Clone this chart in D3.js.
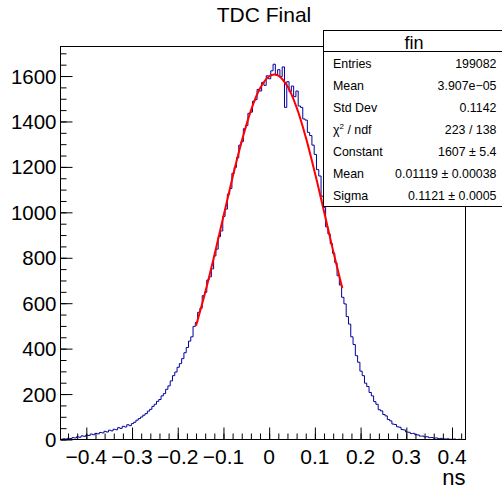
<!DOCTYPE html>
<html><head><meta charset="utf-8">
<script src="https://cdn.jsdelivr.net/npm/d3@7"></script>
<style>
body{margin:0;background:#fff}
svg{display:block}
text{font-family:"Liberation Sans",Arial,Helvetica,sans-serif;fill:#000}
</style>
</head><body>
<svg id="c" width="502" height="490"></svg>
<script>
// ---- data ----
const title = "TDC Final";
const xTitle = "ns";
const histName = "fin";
const binLow = -0.4565;
const binWidth = 0.005;
const counts = [
  1, 3, 2, 5, 4, 8, 7, 12, 10, 16,
  14, 19, 18, 24, 21, 27, 25, 31, 29, 36,
  33, 41, 38, 45, 43, 52, 49, 58, 55, 65,
  61, 70, 76, 85, 92, 99, 107, 114, 125, 133,
  146, 155, 168, 176, 192, 202, 221, 236, 258, 281,
  297, 318, 334, 356, 382, 405, 433, 452, 498, 515,
  560, 578, 633, 648, 702, 716, 751, 808, 838, 893,
  918, 982, 1014, 1080, 1105, 1172, 1198, 1240, 1296, 1311,
  1368, 1382, 1436, 1441, 1489, 1496, 1541, 1534, 1572, 1559,
  1601, 1588, 1623, 1652, 1604, 1628, 1597, 1640, 1462, 1575,
  1531, 1556, 1509, 1534, 1468, 1462, 1411, 1406, 1352, 1338,
  1296, 1255, 1188, 1160, 1071, 1022, 936, 905, 862, 820,
  778, 721, 680, 626, 597, 541, 508, 452, 418, 369,
  340, 301, 281, 248, 233, 207, 192, 167, 155, 131,
  126, 110, 104, 88, 82, 68, 66, 56, 54, 44,
  42, 33, 32, 26, 27, 21, 20, 15, 15, 11,
  12, 8, 9, 6, 7, 4, 5, 3, 2, 3,
  1, 1, 2, 0, 1, 0, 0
];
const fitX = [-0.16,-0.14,-0.12,-0.10,-0.08,-0.06,-0.04,-0.02,0.0,0.01119,0.02,0.04,0.06,0.08,0.10,0.12,0.14,0.16];
const fitY = [500.8,647.2,810.2,982.6,1154.3,1313.5,1447.9,1546.0,1599.0,1607.0,1602.1,1554.8,1461.7,1331.1,1174.1,1003.3,830.4,665.8];
const xMajor = [-0.4,-0.3,-0.2,-0.1,0,0.1,0.2,0.3,0.4];
const yMajor = [0,200,400,600,800,1000,1200,1400,1600];
const xDomain = [-0.4565, 0.4295];
const yDomain = [0, 1730];
const statLabels = ["Entries","Mean","Std Dev","CHI","Constant","Mean","Sigma"];
const statValues = ["199082","3.907e\u221205","0.1142","223 / 138","1607 \u00b1 5.4","0.01119 \u00b1 0.00038","0.1121 \u00b1 0.0005"];

// ---- layout ----
const svg = d3.select("#c");
const L = 60.5, R = 465.5, T = 46.5, B = 439.5;
const x = d3.scaleLinear().domain(xDomain).range([L, R]);
const y = d3.scaleLinear().domain(yDomain).range([B, T]);

svg.append("defs").append("clipPath").attr("id","clip")
  .append("rect").attr("x",L).attr("y",T).attr("width",R-L).attr("height",B-T);

// histogram step path
const pts = [[x(binLow), y(0)]];
counts.forEach((c,i)=>{
  const x0 = x(binLow + i*binWidth), x1 = x(binLow + (i+1)*binWidth);
  pts.push([x0, y(c)]); pts.push([x1, y(c)]);
});
pts.push([x(binLow + counts.length*binWidth), y(0)]);
svg.append("path").attr("clip-path","url(#clip)")
  .attr("d", d3.line()(pts))
  .attr("fill","none").attr("stroke","#000099").attr("stroke-width",1);

// fit
svg.append("path").attr("clip-path","url(#clip)")
  .attr("d", d3.line().x((d,i)=>x(fitX[i])).y(d=>y(d)).curve(d3.curveCatmullRom)(fitY))
  .attr("fill","none").attr("stroke","#ff0000").attr("stroke-width",2);

// axes via d3 axis generators
const xAxisMinor = d3.axisTop(x).tickValues(d3.range(-44,43,2).map(v=>v/100)).tickSize(6).tickFormat("");
const xAxisMajor = d3.axisTop(x).tickValues(xMajor).tickSize(12).tickFormat("");
const yAxisMinor = d3.axisRight(y).tickValues(d3.range(0,1701,50)).tickSize(6).tickFormat("");
const yAxisMajor = d3.axisRight(y).tickValues(yMajor).tickSize(12).tickFormat("");
[xAxisMinor,xAxisMajor].forEach(a=>{
  const g = svg.append("g").attr("transform",`translate(0,${B})`).call(a);
  g.select(".domain").remove();
  g.selectAll("line").attr("stroke","#000");
});
[yAxisMinor,yAxisMajor].forEach(a=>{
  const g = svg.append("g").attr("transform",`translate(${L},0)`).call(a);
  g.select(".domain").remove();
  g.selectAll("line").attr("stroke","#000");
});

// tick labels
const fmt = d3.format("");
svg.append("g").selectAll("text").data(xMajor).join("text")
  .attr("x", d=>x(d)).attr("y", B+24).attr("text-anchor","middle")
  .attr("font-size",21).text(d=>d===0?"0":fmt(d));
svg.append("g").selectAll("text").data(yMajor).join("text")
  .attr("x", L-4).attr("y", d=>y(d)+7.5).attr("text-anchor","end")
  .attr("font-size",20.5).text(d=>d);

// frame
svg.append("rect").attr("x",L).attr("y",T).attr("width",R-L).attr("height",B-T)
  .attr("fill","none").attr("stroke","#000").attr("stroke-width",1);

// titles
svg.append("text").attr("x",264).attr("y",22).attr("text-anchor","middle")
  .attr("font-size",21).text(title);
svg.append("text").attr("x",R).attr("y",485).attr("text-anchor","end")
  .attr("font-size",22).text(xTitle);

// stats box
const sb = {x:323.5, y:30.5, w:180, h:176};
svg.append("rect").attr("x",sb.x).attr("y",sb.y).attr("width",sb.w).attr("height",sb.h)
  .attr("fill","#fff").attr("stroke","#000").attr("stroke-width",1);
svg.append("line").attr("x1",sb.x).attr("x2",sb.x+sb.w).attr("y1",51.5).attr("y2",51.5)
  .attr("stroke","#000");
svg.append("text").attr("x",414).attr("y",49).attr("text-anchor","middle")
  .attr("font-size",18).text(histName);
statLabels.forEach((lab,i)=>{
  const yy = 68.3 + i*21.87;
  const t = svg.append("text").attr("x",333).attr("y",yy).attr("font-size",12.4);
  if(lab==="CHI"){
    t.append("tspan").text("\u03c7");
    t.append("tspan").attr("dy",-5).attr("font-size",8).text("2");
    t.append("tspan").attr("dy",5).text(" / ndf");
  } else t.text(lab);
  svg.append("text").attr("x",496.5).attr("y",yy).attr("text-anchor","end")
    .attr("font-size",12.4).text(statValues[i]);
});
</script>
</body></html>
